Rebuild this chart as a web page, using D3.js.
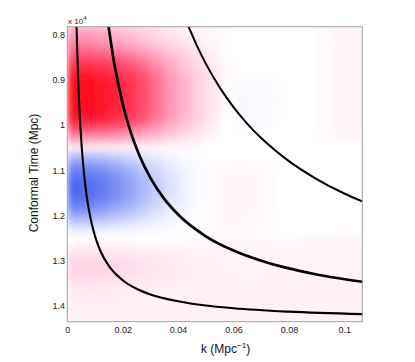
<!DOCTYPE html>
<html>
<head>
<meta charset="utf-8">
<script src="https://cdn.jsdelivr.net/npm/d3@7"></script>
<style>
  body { margin: 0; background: #fff; }
  svg { display: block; font-family: "Liberation Sans", Arial, sans-serif; }
  .tick text { fill: #222; font-size: 9px; }
</style>
</head>
<body>
<div id="chart"></div>
<script>
// k bins (Mpc^-1) and conformal time bins (Mpc), centre of each cell
var kCenters = [0.0025, 0.0075, 0.0125, 0.0175, 0.0225, 0.0275, 0.0325, 0.0375, 0.0425, 0.0475, 0.0525,
                0.0575, 0.0625, 0.0675, 0.0725, 0.0775, 0.0825, 0.0875, 0.0925, 0.0975, 0.1025, 0.1075];
var tauCenters = [7900, 8100, 8300, 8500, 8700, 8900, 9100, 9300, 9500, 9700, 9900, 10100, 10300, 10500,
                  10700, 10900, 11100, 11300, 11500, 11700, 11900, 12100, 12300, 12500, 12700, 12900,
                  13100, 13300, 13500, 13700, 13900, 14100, 14300];

// one row per tau (red > 0, blue < 0)
var fieldRows = [
  [.30, .29, .26, .22, .18, .14, .10, .07, .05, .03, .02, .01, 0, 0, 0, 0, 0, 0, .015, .03, .03, .03],
  [.40, .38, .34, .29, .24, .18, .13, .09, .06, .04, .02, .01, 0, 0, 0, 0, 0, 0, .015, .03, .03, .03],
  [.50, .49, .45, .40, .34, .28, .21, .15, .10, .06, .03, .01, 0, 0, 0, 0, 0, 0, .015, .03, .03, .03],
  [.63, .63, .60, .56, .49, .41, .32, .23, .15, .09, .05, .01, 0, 0, 0, 0, 0, 0, .015, .03, .03, .03],
  [.80, .80, .76, .70, .62, .52, .40, .29, .19, .11, .06, .02, 0, 0, 0, 0, 0, 0, .015, .03, .03, .03],
  [.93, .93, .88, .82, .73, .61, .47, .34, .22, .13, .07, .02, 0, -.01, -.01, 0, 0, 0, .015, .03, .03, .03],
  [1, 1, .95, .88, .78, .65, .50, .36, .24, .14, .07, .01, -.025, -.025, -.02, -.01, 0, 0, .015, .03, .03, .03],
  [1, 1, .95, .88, .78, .65, .50, .36, .24, .14, .07, .01, -.03, -.03, -.025, -.01, 0, 0, .015, .03, .03, .03],
  [1, 1, .95, .88, .78, .65, .50, .36, .24, .14, .07, .01, -.03, -.03, -.025, -.01, 0, 0, .015, .03, .03, .03],
  [.97, .97, .92, .85, .76, .63, .49, .35, .23, .14, .07, .01, -.03, -.03, -.025, -.01, 0, 0, .015, .03, .03, .03],
  [.90, .90, .86, .79, .70, .59, .45, .32, .22, .13, .06, 0, -.025, -.025, -.02, 0, 0, 0, .015, .03, .03, .03],
  [.62, .62, .59, .55, .48, .40, .31, .22, .15, .09, .04, 0, -.015, -.015, -.01, 0, 0, 0, .015, .03, .03, .03],
  [.35, .35, .33, .31, .27, .23, .18, .13, .08, .05, .02, 0, 0, 0, 0, 0, 0, 0, .01, .02, .02, .02],
  [.06, .06, .06, .05, .05, .04, .03, .02, .01, .01, 0, 0, 0, 0, 0, 0, 0, 0, 0, 0, 0, 0],
  [-.30, -.29, -.26, -.21, -.17, -.12, -.08, -.05, -.02, -.01, 0, 0, 0, 0, 0, 0, 0, 0, 0, 0, 0, 0],
  [-.55, -.52, -.47, -.39, -.30, -.22, -.15, -.09, -.04, -.02, .01, .015, .02, .015, .01, 0, 0, 0, 0, 0, 0, 0],
  [-.72, -.68, -.61, -.50, -.40, -.29, -.19, -.12, -.06, -.02, .015, .025, .025, .025, .015, 0, 0, 0, 0, 0, 0, 0],
  [-.80, -.76, -.68, -.56, -.44, -.32, -.22, -.13, -.06, -.02, .015, .025, .03, .025, .015, 0, 0, 0, 0, 0, 0, 0],
  [-.80, -.76, -.68, -.56, -.44, -.32, -.22, -.13, -.06, -.02, .015, .025, .03, .025, .015, 0, 0, 0, 0, 0, 0, 0],
  [-.70, -.67, -.60, -.49, -.39, -.28, -.19, -.11, -.06, -.02, .015, .025, .03, .025, .015, 0, 0, 0, 0, 0, 0, 0],
  [-.52, -.49, -.44, -.36, -.29, -.21, -.14, -.08, -.04, -.01, .015, .025, .025, .025, .015, 0, 0, 0, 0, 0, 0, 0],
  [-.30, -.29, -.26, -.21, -.17, -.12, -.08, -.05, -.02, 0, .015, .025, .025, .02, .01, 0, 0, 0, 0, 0, 0, 0],
  [-.10, -.10, -.09, -.07, -.06, -.04, -.03, -.02, 0, 0, .01, .02, .02, .015, .005, 0, 0, 0, 0, 0, 0, 0],
  [0, 0, 0, 0, 0, 0, 0, .005, .01, .015, .02, .02, .02, .015, .01, .01, .015, .02, .02, .025, .025, .025],
  [.05, .05, .05, .045, .04, .035, .03, .03, .03, .03, .03, .03, .03, .03, .03, .03, .03, .03, .03, .03, .03, .03],
  [.10, .10, .095, .09, .08, .07, .06, .05, .045, .04, .035, .035, .035, .03, .03, .03, .03, .03, .03, .03, .03, .03],
  [.13, .13, .125, .115, .10, .085, .07, .06, .05, .045, .04, .035, .035, .035, .03, .03, .03, .03, .03, .03, .03, .03],
  [.12, .12, .115, .105, .095, .08, .07, .06, .05, .045, .04, .035, .035, .035, .035, .035, .035, .035, .035, .035, .035, .035],
  [.08, .08, .075, .07, .065, .06, .055, .05, .045, .04, .04, .04, .04, .04, .04, .04, .04, .04, .04, .04, .04, .04],
  [.06, .06, .06, .055, .05, .05, .045, .045, .04, .04, .04, .04, .04, .04, .04, .04, .04, .04, .04, .04, .04, .04],
  [.05, .05, .05, .045, .045, .04, .04, .04, .04, .04, .04, .04, .04, .04, .04, .04, .04, .04, .04, .04, .04, .04],
  [.04, .04, .04, .04, .04, .04, .04, .04, .04, .04, .04, .04, .04, .04, .04, .04, .04, .04, .04, .04, .04, .04],
  [.04, .04, .04, .04, .04, .04, .04, .04, .04, .04, .04, .04, .04, .04, .04, .04, .04, .04, .04, .04, .04, .04]
];

// black curves, [k, tau]
var curveA = [[0.00333, 7830], [0.0040, 9110], [0.0050, 10300], [0.0060, 11050], [0.0070, 11570],
              [0.0080, 11945], [0.0100, 12457], [0.0120, 12790], [0.0150, 13115], [0.0200, 13430],
              [0.0250, 13620], [0.0300, 13745], [0.0400, 13895], [0.0500, 13990], [0.0600, 14050],
              [0.0800, 14125], [0.1065, 14180]];
var curveB = [[0.0149, 7830], [0.0170, 8655], [0.0200, 9535], [0.0230, 10180], [0.0260, 10670],
              [0.0300, 11170], [0.0350, 11635], [0.0400, 11980], [0.0500, 12460], [0.0600, 12775],
              [0.0700, 13000], [0.0800, 13170], [0.0900, 13305], [0.1065, 13465]];
var curveC = [[0.0438, 7830], [0.0470, 8275], [0.0500, 8645], [0.0550, 9170], [0.0600, 9605],
              [0.0650, 9975], [0.0700, 10290], [0.0750, 10560], [0.0800, 10800], [0.0900, 11195],
              [0.1000, 11515], [0.1065, 11690]];

var xTicks = [0, 0.02, 0.04, 0.06, 0.08, 0.1];
var yTicks = [8000, 9000, 10000, 11000, 12000, 13000, 14000];

var width = 415, height = 362;
var plotLeft = 67.3, plotRight = 362.3, plotTop = 26.7, plotBottom = 321.7;

var x = d3.scaleLinear().domain([0, 0.1065]).range([plotLeft, plotRight]);
var y = d3.scaleLinear().domain([7830, 14347]).range([plotTop, plotBottom]);

var color = d3.scaleLinear()
    .domain([-1, -0.8, -0.5, -0.25, -0.08, 0, 0.08, 0.3, 0.6, 1])
    .range(["#3a58ee", "#4c66ef", "#8496f4", "#bcc6fa", "#eceeff", "#ffffff", "#ffe2ef", "#ffa6c4", "#ff5478", "#ff0a1c"])
    .clamp(true);

var svg = d3.select("#chart").append("svg")
    .attr("width", width)
    .attr("height", height);

var defs = svg.append("defs");
defs.append("clipPath").attr("id", "plotclip")
  .append("rect")
    .attr("x", plotLeft).attr("y", plotTop)
    .attr("width", plotRight - plotLeft).attr("height", plotBottom - plotTop);

var blur = defs.append("filter").attr("id", "soft")
    .attr("filterUnits", "userSpaceOnUse")
    .attr("x", x(0)).attr("y", y(7800))
    .attr("width", x(0.11) - x(0)).attr("height", y(14400) - y(7800));
blur.append("feGaussianBlur").attr("stdDeviation", 3.8).attr("edgeMode", "duplicate");

// heat map
var cells = [];
tauCenters.forEach(function(t, i) {
    kCenters.forEach(function(k, j) {
        cells.push({k: k, tau: t, v: fieldRows[i][j]});
    });
});

var plot = svg.append("g").attr("clip-path", "url(#plotclip)");

plot.append("g")
    .attr("filter", "url(#soft)")
  .selectAll("rect")
    .data(cells)
    .enter().append("rect")
    .attr("x", function(d) { return x(d.k - 0.0025); })
    .attr("y", function(d) { return y(d.tau - 100); })
    .attr("width", function(d) { return x(d.k + 0.0025) - x(d.k - 0.0025) + 0.5; })
    .attr("height", function(d) { return y(d.tau + 100) - y(d.tau - 100) + 0.5; })
    .attr("fill", function(d) { return color(d.v); });

var line = d3.line()
    .x(function(d) { return x(d[0]); })
    .y(function(d) { return y(d[1]); })
    .curve(d3.curveMonotoneX);

plot.selectAll(".curve")
    .data([{pts: curveA, w: 2.1}, {pts: curveB, w: 2.7}, {pts: curveC, w: 2.0}])
    .enter().append("path")
    .attr("class", "curve")
    .attr("d", function(d) { return line(d.pts); })
    .attr("fill", "none")
    .attr("stroke", "#000")
    .attr("stroke-width", function(d) { return d.w; });

// frame
svg.append("rect")
    .attr("x", plotLeft).attr("y", plotTop)
    .attr("width", plotRight - plotLeft).attr("height", plotBottom - plotTop)
    .attr("fill", "none")
    .attr("stroke", "#a0a0a0")
    .attr("stroke-width", 1);

// axes, no tick marks in the original
var xAxis = svg.append("g")
    .attr("transform", "translate(0," + plotBottom + ")")
    .call(d3.axisBottom(x).tickValues(xTicks).tickSize(0).tickPadding(5.2)
        .tickFormat(function(d) { return d === 0 ? "0" : d3.format("~g")(d); }));
xAxis.select(".domain").remove();

var yAxis = svg.append("g")
    .attr("transform", "translate(" + plotLeft + ",0)")
    .call(d3.axisLeft(y).tickValues(yTicks).tickSize(0).tickPadding(2.3)
        .tickFormat(function(d) { return d3.format("~g")(d / 1e4); }));
yAxis.select(".domain").remove();

// axis labels
var xl = svg.append("text")
    .attr("x", 201).attr("y", 353)
    .attr("font-size", 12)
    .attr("fill", "#111");
xl.append("tspan").text("k (Mpc");
xl.append("tspan").attr("font-size", 8).attr("dy", -5).text("\u22121");
xl.append("tspan").attr("dy", 5).text(")");

svg.append("text")
    .attr("transform", "translate(37.5,173) rotate(-90)")
    .attr("text-anchor", "middle")
    .attr("font-size", 12)
    .attr("fill", "#111")
    .text("Conformal Time (Mpc)");

var mult = svg.append("text")
    .attr("x", 68).attr("y", 24)
    .attr("font-size", 8)
    .attr("fill", "#222");
mult.append("tspan").text("x 10");
mult.append("tspan").attr("font-size", 6).attr("dy", -4).text("4");
</script>
</body>
</html>
